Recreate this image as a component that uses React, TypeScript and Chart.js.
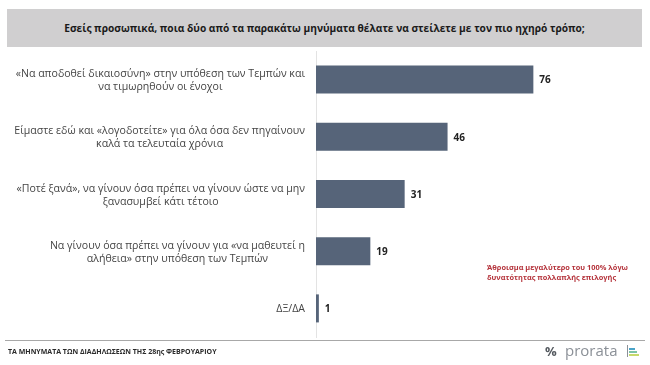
import React, { useEffect, useRef } from "react";
import { Chart, registerables } from "chart.js";

Chart.register(...registerables);

const TITLE = "Εσείς προσωπικά, ποια δύο από τα παρακάτω μηνύματα θέλατε να στείλετε με τον πιο ηχηρό τρόπο;";
const CATEGORIES: string[][] = [
  ["«Να αποδοθεί δικαιοσύνη» στην υπόθεση των Τεμπών και", "να τιμωρηθούν οι ένοχοι"],
  ["Είμαστε εδώ και «λογοδοτείτε» για όλα όσα δεν πηγαίνουν", "καλά τα τελευταία χρόνια"],
  ["«Ποτέ ξανά», να γίνουν όσα πρέπει να γίνουν ώστε να μην", "ξανασυμβεί κάτι τέτοιο"],
  ["Να γίνουν όσα πρέπει να γίνουν για «να μαθευτεί η", "αλήθεια» στην υπόθεση των Τεμπών"],
  ["ΔΞ/ΔΑ"],
];
const VALUES: number[] = [76, 46, 31, 19, 1];
const NOTE_LINES: string[] = ["Άθροισμα μεγαλύτερο του 100% λόγω", "δυνατότητας πολλαπλής επιλογής"];
const FOOTER = "ΤΑ ΜΗΝΥΜΑΤΑ ΤΩΝ ΔΙΑΔΗΛΩΣΕΩΝ ΤΗΣ 28ης ΦΕΒΡΟΥΑΡΙΟΥ";

const BAR_COLOR = "#566479";
const FONT = '"Open Sans", "DejaVu Sans", sans-serif';

const labelPlugin = {
  id: "customLabels",
  afterDraw(chart: any) {
    const ctx = chart.ctx;
    const yScale = chart.scales.y;
    const xScale = chart.scales.x;
    ctx.save();
    ctx.font = `10.6px ${FONT}`;
    ctx.fillStyle = "#444444";
    ctx.textAlign = "center";
    ctx.textBaseline = "middle";
    const labels = chart.data.labels as string[][];
    labels.forEach((lines, i) => {
      const widest = Math.max(...lines.map((l) => ctx.measureText(l).width));
      const cx = yScale.right - 11 - widest / 2;
      const cy = yScale.getPixelForValue(i);
      const lh = 13;
      lines.forEach((l, j) => {
        ctx.fillText(l, cx, cy + (j - (lines.length - 1) / 2) * lh + 1);
      });
    });
    ctx.font = `bold 10px ${FONT}`;
    ctx.fillStyle = "#222222";
    ctx.textAlign = "left";
    const ds = chart.data.datasets[0].data as number[];
    ds.forEach((v, i) => {
      const x = xScale.getPixelForValue(v) + 6;
      const y = yScale.getPixelForValue(i);
      ctx.fillText(String(v), x, y + 1);
    });
    ctx.restore();
  },
};

export default function App() {
  const canvasRef = useRef<HTMLCanvasElement | null>(null);

  useEffect(() => {
    if (!canvasRef.current) return;
    const chart = new Chart(canvasRef.current, {
      type: "bar",
      data: {
        labels: CATEGORIES as any,
        datasets: [
          {
            data: VALUES,
            backgroundColor: BAR_COLOR,
            borderWidth: 0,
            barPercentage: 0.49,
            categoryPercentage: 1,
          },
        ],
      },
      options: {
        indexAxis: "y",
        responsive: false,
        animation: false,
        layout: { padding: { top: 51, bottom: 28, left: 0, right: 48 } },
        plugins: { legend: { display: false }, tooltip: { enabled: false } },
        scales: {
          x: { display: false, min: 0, max: 100 },
          y: {
            ticks: { display: false },
            grid: { display: false },
            border: { display: true, color: "#e3e3e3", width: 1 },
            afterFit: (s: any) => {
              s.width = 316;
            },
          },
        },
      },
      plugins: [labelPlugin],
    });
    return () => chart.destroy();
  }, []);

  return (
    <div
      style={{
        position: "fixed",
        left: 0,
        top: 0,
        width: 650,
        height: 365,
        background: "#ffffff",
        overflow: "hidden",
        fontFamily: FONT,
      }}
    >
      <div
        style={{
          position: "absolute",
          left: 7,
          top: 9,
          width: 635,
          height: 38,
          background: "#d0cfd0",
          display: "flex",
          alignItems: "center",
          justifyContent: "center",
          fontWeight: 700,
          fontSize: 10.2,
          color: "#1a1a1a",
        }}
      >
        {TITLE}
      </div>
      <canvas ref={canvasRef} width={650} height={365} style={{ position: "absolute", left: 0, top: 0 }} />
      <div
        style={{
          position: "absolute",
          left: 487,
          top: 262,
          fontSize: 7.4,
          fontWeight: 700,
          color: "#b5343c",
          lineHeight: "10px",
          whiteSpace: "nowrap",
        }}
      >
        {NOTE_LINES.map((l, i) => (
          <div key={i}>{l}</div>
        ))}
      </div>
      <div style={{ position: "absolute", left: 5, top: 340, width: 640, height: 1, background: "#a8a8a8" }} />
      <div
        style={{
          position: "absolute",
          left: 8,
          top: 347,
          fontSize: 7,
          fontWeight: 700,
          color: "#2a2a2a",
          whiteSpace: "nowrap",
        }}
      >
        {FOOTER}
      </div>
      <div
        style={{
          position: "absolute",
          left: 545,
          top: 342,
          fontSize: 13,
          color: "#555a60",
          fontWeight: 700,
          whiteSpace: "nowrap",
        }}
      >
        %
      </div>
      <div
        style={{
          position: "absolute",
          left: 565,
          top: 340,
          fontSize: 15,
          color: "#8b9097",
          whiteSpace: "nowrap",
        }}
      >
        prorata
      </div>
      <div style={{ position: "absolute", left: 627, top: 345, width: 1, height: 12, background: "#8b9097" }} />
      <div style={{ position: "absolute", left: 629, top: 348, width: 6, height: 2, background: "#4aa3c8" }} />
      <div style={{ position: "absolute", left: 629, top: 351, width: 8, height: 2, background: "#7cc3a6" }} />
      <div style={{ position: "absolute", left: 629, top: 354, width: 10, height: 2, background: "#c7d96b" }} />
    </div>
  );
}
